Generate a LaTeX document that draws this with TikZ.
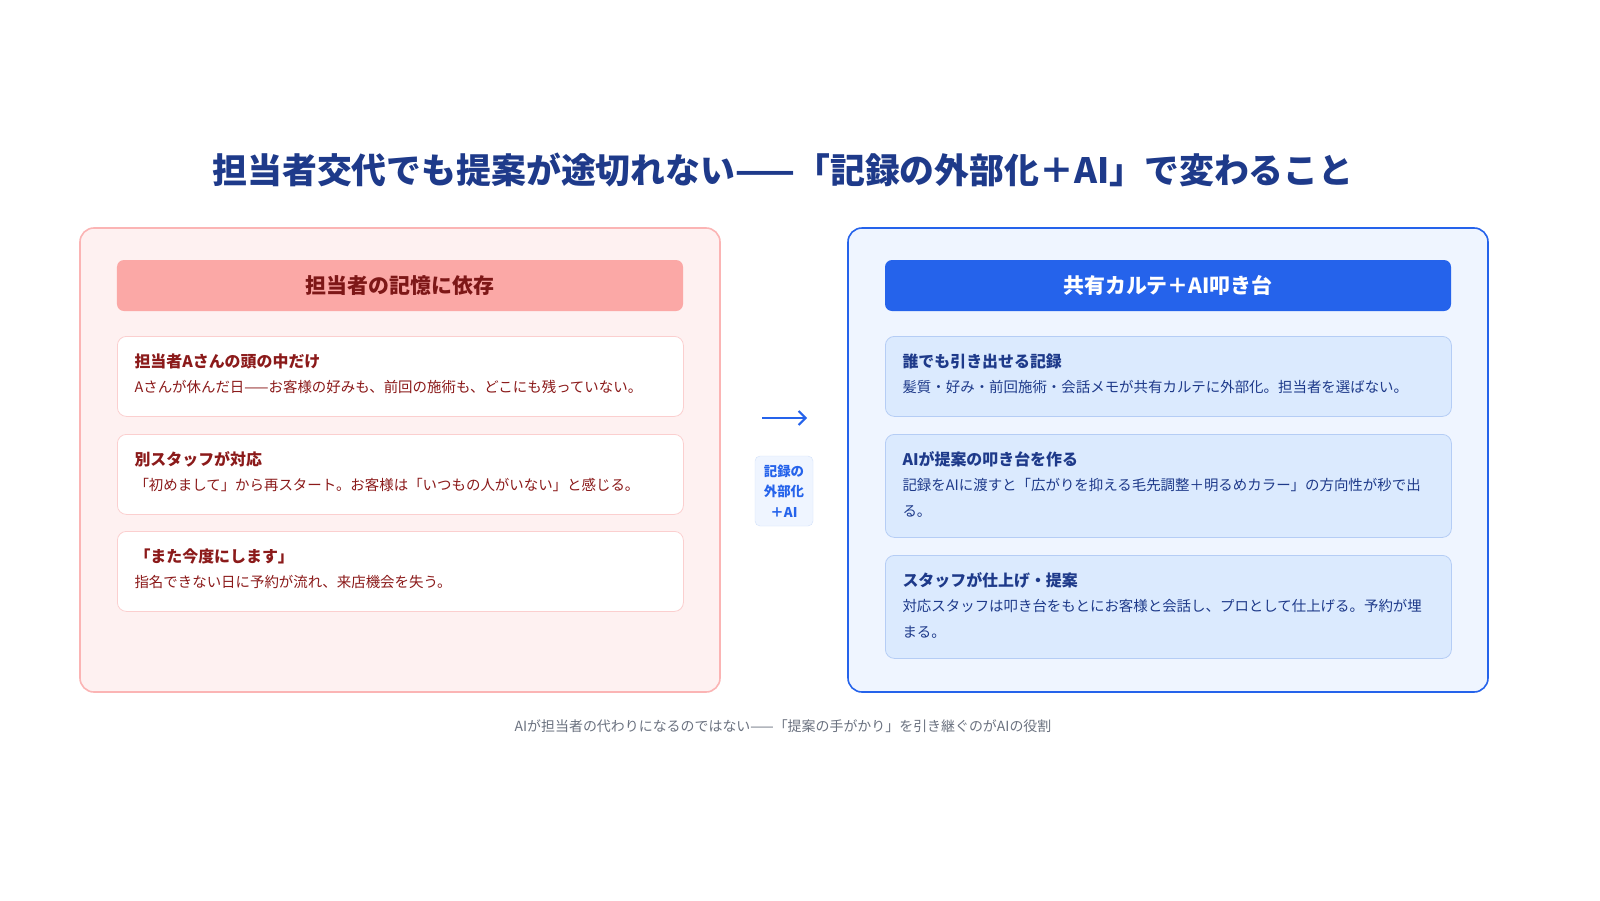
\documentclass[tikz,border=0pt]{standalone}
\usepackage{fontspec}
\setmainfont{Noto Sans CJK JP}
\usetikzlibrary{arrows.meta,positioning}
\definecolor{navy}{HTML}{1E3A8A}
\definecolor{brand}{HTML}{2563EB}
\definecolor{wine}{HTML}{8B1A1A}
\definecolor{rosebg}{HTML}{FEF1F1}
\definecolor{roseln}{HTML}{FBB4B4}
\definecolor{rosehd}{HTML}{FBA8A6}
\definecolor{rosecd}{HTML}{FBCFCF}
\definecolor{skybg}{HTML}{EFF5FF}
\definecolor{skycd}{HTML}{DBEAFE}
\definecolor{skyln}{HTML}{B5CDF5}
\definecolor{greytx}{HTML}{6B7280}
\tikzset{
    panel/.style={
    rectangle,rounded corners=14bp,line width=1.6bp
    },
    header/.style={
    rectangle,rounded corners=7bp,minimum width=566bp,minimum height=51bp,
    font=\fontsize{21}{25}\selectfont\bfseries
    },
    card/.style={
    rectangle,rounded corners=9bp,line width=0.8bp,minimum width=566bp,anchor=north west
    },
    ctitle/.style={
    anchor=west,font=\fontsize{16}{19}\selectfont\bfseries
    },
    cbody/.style={
    anchor=north west,align=left,font=\fontsize{14.5}{25.5}\selectfont
    },
}
\begin{document}
\begin{tikzpicture}[x=1bp,y=-1bp]
  \useasboundingbox[fill=white] (0,0) rectangle (1600,900);
  \node[font=\fontsize{35}{40}\selectfont\bfseries,text=navy] (title) at (783,170)
    {担当者交代でも提案が途切れない——「記録の外部化＋AI」で変わること};

  % left side
  \draw[panel,draw=roseln,fill=rosebg] (80,228) rectangle (720,692);
  \node[header,fill=rosehd,text=wine!90!black] (lhead) at (400,285.5) {担当者の記憶に依存};
  \node[card,draw=rosecd,fill=white,minimum height=80bp] (l1) at (117,336) {};
  \node[card,draw=rosecd,fill=white,minimum height=80bp] (l2) at (117,434) {};
  \node[card,draw=rosecd,fill=white,minimum height=80bp] (l3) at (117,531) {};
  \node[ctitle,text=wine] at (131,361) {担当者Aさんの頭の中だけ};
  \node[cbody,text=wine] at (131,377) {Aさんが休んだ日——お客様の好みも、前回の施術も、どこにも残っていない。};
  \node[ctitle,text=wine] at (131,459) {別スタッフが対応};
  \node[cbody,text=wine] at (131,475) {「初めまして」から再スタート。お客様は「いつもの人がいない」と感じる。};
  \node[ctitle,text=wine] at (131,556) {「また今度にします」};
  \node[cbody,text=wine] at (131,572) {指名できない日に予約が流れ、来店機会を失う。};

  % middle
  \coordinate (from) at (762,418);
  \coordinate (to) at (807,418);
  \draw[brand,line width=2bp,-{Straight Barb[length=7bp,width=14bp]}] (from) -- (to);
  \node[rectangle,rounded corners=5bp,draw=skyln!60,fill=skybg,minimum width=58bp,minimum height=70bp,
        align=center,text=brand,font=\fontsize{13.5}{20.5}\selectfont\bfseries] (via) at (784,491)
    {記録の\\外部化\\＋AI};

  % right side
  \draw[panel,draw=brand,fill=skybg] (848,228) rectangle (1488,692);
  \node[header,fill=brand,text=white] (rhead) at (1168,285.5) {共有カルテ＋AI叩き台};
  \node[card,draw=skyln,fill=skycd,minimum height=80bp] (r1) at (885,336) {};
  \node[card,draw=skyln,fill=skycd,minimum height=103bp] (r2) at (885,434) {};
  \node[card,draw=skyln,fill=skycd,minimum height=103bp] (r3) at (885,555) {};
  \node[ctitle,text=navy] at (899,361) {誰でも引き出せる記録};
  \node[cbody,text=navy] at (899,377) {髪質・好み・前回施術・会話メモが共有カルテに外部化。担当者を選ばない。};
  \node[ctitle,text=navy] at (899,459) {AIが提案の叩き台を作る};
  \node[cbody,text=navy] at (899,475) {記録をAIに渡すと「広がりを抑える毛先調整＋明るめカラー」の方向性が秒で出\\る。};
  \node[ctitle,text=navy] at (899,580) {スタッフが仕上げ・提案};
  \node[cbody,text=navy] at (899,596) {対応スタッフは叩き台をもとにお客様と会話し、プロとして仕上げる。予約が埋\\まる。};

  \node[font=\fontsize{14}{17}\selectfont,text=greytx] (note) at (783,726)
    {AIが担当者の代わりになるのではない——「提案の手がかり」を引き継ぐのがAIの役割};
\end{tikzpicture}
\end{document}
